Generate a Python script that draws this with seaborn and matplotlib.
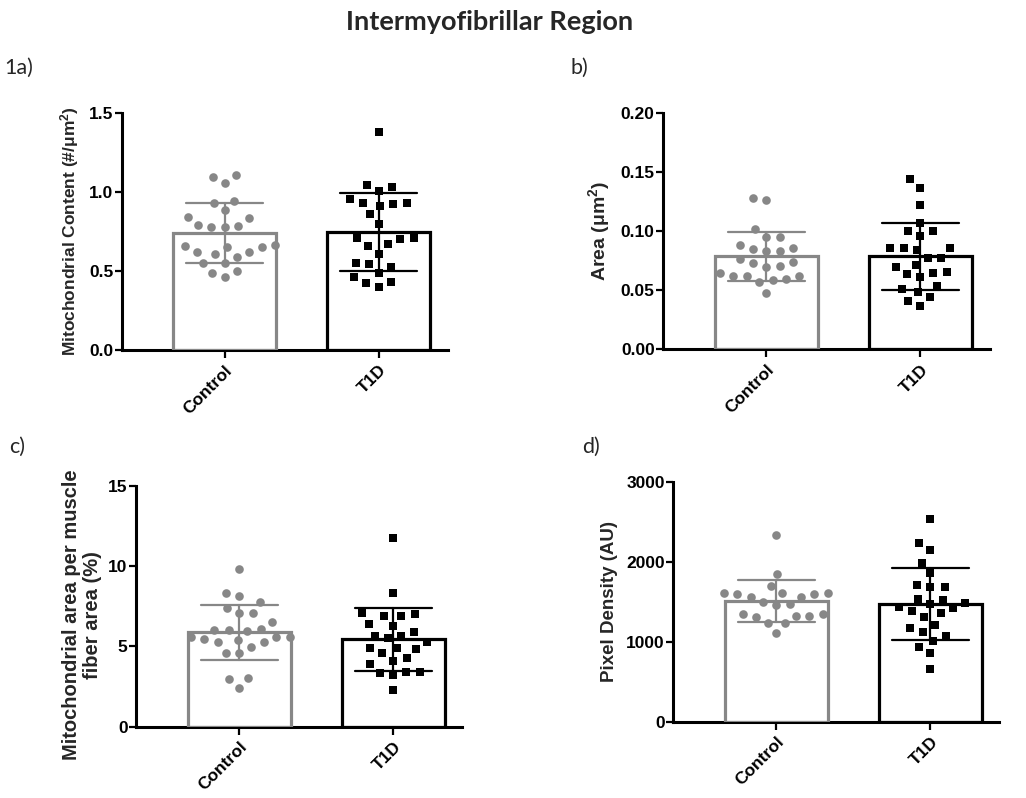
import numpy as np
import pandas as pd
import matplotlib
matplotlib.use("Agg")
import matplotlib.pyplot as plt
import seaborn as sns

# ---- data -------------------------------------------------------------
groups = ["Control", "T1D"]

content_control = [1.106, 1.058, 1.096, 0.931, 0.944, 0.885, 0.832, 0.784, 0.775,
                   0.780, 0.790, 0.843, 0.664, 0.653, 0.622, 0.607, 0.586, 0.617,
                   0.649, 0.657, 0.548, 0.548, 0.501, 0.463, 0.485]
content_t1d = [1.380, 1.028, 1.043, 1.007, 0.952, 0.927, 0.910, 0.923, 0.931,
               0.857, 0.796, 0.710, 0.700, 0.659, 0.668, 0.706, 0.607, 0.542,
               0.523, 0.548, 0.485, 0.463, 0.432, 0.400, 0.421]

area_control = [0.1276, 0.1262, 0.1014, 0.0947, 0.0947, 0.0882, 0.0848, 0.0831,
                0.0831, 0.0854, 0.0741, 0.0763, 0.0707, 0.0698, 0.0727, 0.0648,
                0.0622, 0.0622, 0.0622, 0.0586, 0.0572, 0.0594, 0.0479]
area_t1d = [0.1437, 0.1361, 0.1220, 0.1070, 0.1000, 0.1000, 0.0958, 0.0859,
            0.0854, 0.0839, 0.0854, 0.0769, 0.0769, 0.0713, 0.0698, 0.0651,
            0.0634, 0.0642, 0.0609, 0.0535, 0.0510, 0.0487, 0.0440, 0.0411,
            0.0369]

fraction_control = [9.83, 8.32, 8.15, 7.79, 7.42, 7.11, 7.11, 6.55, 6.03, 6.07,
                    6.03, 5.97, 5.45, 5.26, 5.61, 5.61, 5.61, 5.26, 5.41, 4.99,
                    4.61, 4.61, 3.02, 2.95, 2.39]
fraction_t1d = [11.78, 8.32, 7.03, 6.90, 6.92, 7.11, 6.28, 6.40, 5.92, 5.67,
                5.51, 5.65, 4.89, 4.82, 5.30, 4.57, 4.89, 4.26, 3.89, 4.11,
                3.43, 3.33, 3.22, 3.43, 2.29]

density_control = [2334, 1846, 1700, 1613, 1596, 1605, 1613, 1563, 1500, 1563,
                   1596, 1459, 1471, 1342, 1321, 1313, 1321, 1346, 1229, 1229,
                   1104]
density_t1d = [2530, 2238, 2146, 1988, 1863, 1709, 1680, 1680, 1468, 1418,
               1521, 1530, 1430, 1488, 1355, 1384, 1305, 1175, 1209, 1125,
               1071, 1013, 938, 855, 655]

panel_letters = ["1a)", "b)", "c)", "d)"]
y_labels = [
    r"Mitochondrial Content (#/$\mathbf{\mu}$m$^{\mathbf{2}}$)",
    r"Area ($\mathbf{\mu}$m$^{\mathbf{2}}$)",
    "Mitochondrial area per muscle\nfiber area (%)",
    "Pixel Density (AU)",
]
y_ticks = [
    [0.0, 0.5, 1.0, 1.5],
    [0.00, 0.05, 0.10, 0.15, 0.20],
    [0, 5, 10, 15],
    [0, 1000, 2000, 3000],
]
y_tick_fmt = ["{:.1f}", "{:.2f}", "{:.0f}", "{:.0f}"]
title = "Intermyofibrillar Region"

# ---- style ------------------------------------------------------------
sns.set_style("ticks")
plt.rcParams["font.family"] = ["Liberation Sans", "DejaVu Sans"]
plt.rcParams["mathtext.fontset"] = "custom"
plt.rcParams["mathtext.rm"] = "Liberation Sans:bold"
plt.rcParams["mathtext.it"] = "Liberation Sans:bold"
plt.rcParams["mathtext.bf"] = "Liberation Sans:bold"

palette = {"Control": "#878787", "T1D": "#000000"}
markers = {"Control": "o", "T1D": "s"}
swarm_layout_size = 9.3   # spacing used when arranging the swarm
marker_size = 6.2         # size the markers are finally drawn at

label_sizes = [12.5, 14.0, 14.5, 13.5]
tick_size = 12.5

W, H = 1026, 798
fig = plt.figure(figsize=(W / 100, H / 100), dpi=100)

# axes boxes in pixels: left, top, right, bottom
boxes = [
    (121.7, 112.7, 448.0, 350.0),
    (663.0, 112.7, 989.5, 349.3),
    (136.0, 486.0, 462.5, 726.7),
    (673.0, 481.7, 999.5, 721.7),
]
letter_pos = [(4, 68), (570, 68), (9, 447), (582, 447)]

datasets = [
    (content_control, content_t1d),
    (area_control, area_t1d),
    (fraction_control, fraction_t1d),
    (density_control, density_t1d),
]

axes = []
for i, (ctrl, t1d) in enumerate(datasets):
    l, t, r, b = boxes[i]
    ax = fig.add_axes([l / W, 1 - b / H, (r - l) / W, (b - t) / H])
    axes.append(ax)
    df = pd.DataFrame({
        "group": ["Control"] * len(ctrl) + ["T1D"] * len(t1d),
        "value": list(ctrl) + list(t1d),
    })

    sns.barplot(data=df, x="group", y="value", hue="group", order=groups,
                hue_order=groups, palette=palette, fill=False, errorbar="sd",
                capsize=0.5, width=0.67, linewidth=2.3,
                err_kws={"linewidth": 1.6, "zorder": 5}, legend=False, ax=ax,
                zorder=3)

    for g in groups:
        sns.swarmplot(data=df[df["group"] == g], x="group", y="value",
                      order=groups, color=palette[g], marker=markers[g],
                      size=swarm_layout_size, linewidth=0, ax=ax, zorder=4)

    ax.set_xlim(-0.67, 1.45)
    ax.set_ylim(y_ticks[i][0], y_ticks[i][-1])
    ax.set_yticks(y_ticks[i])
    ax.set_yticklabels([y_tick_fmt[i].format(v) for v in y_ticks[i]],
                       fontsize=tick_size, fontweight="bold")
    ax.set_xticks([0, 1])
    ax.set_xticklabels(groups, rotation=45, ha="right", rotation_mode="anchor",
                       fontsize=tick_size, fontweight="bold")
    ax.set_xlabel("")
    ax.set_ylabel(y_labels[i], fontsize=label_sizes[i], fontweight="bold",
                  labelpad=6, linespacing=1.1)

    for side in ("top", "right"):
        ax.spines[side].set_visible(False)
    for side in ("left", "bottom"):
        ax.spines[side].set_linewidth(2.2)
        ax.spines[side].set_color("black")
    ax.tick_params(axis="y", length=5, width=1.6, pad=1, colors="black")
    ax.tick_params(axis="x", length=6, width=1.6, pad=3, colors="black")

    lx, ly = letter_pos[i]
    fig.text(lx / W, 1 - ly / H, panel_letters[i], fontsize=15.5,
             family=["Lato", "DejaVu Sans"], va="center", ha="left")

# the two-line label sits a little below the axis centre
axes[2].yaxis.set_label_coords(-0.105, 0.465)

fig.text(490 / W, 1 - 22 / H, title, fontsize=19.5, fontweight="bold",
         family=["Lato", "DejaVu Sans"], ha="center", va="center")

# Arrange the swarms with the wider spacing, then freeze those positions
# and shrink the markers to their final size.
fig.canvas.draw()
for ax in axes:
    for coll in ax.collections:
        if "draw" in coll.__dict__:
            del coll.draw
            coll.set_sizes([marker_size ** 2])

fig.savefig("out.png", dpi=100, facecolor="white")
